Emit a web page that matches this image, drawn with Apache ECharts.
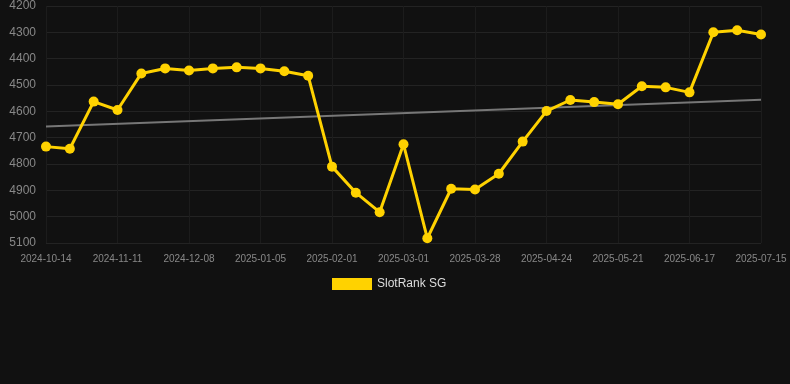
<!DOCTYPE html>
<html>
<head>
<meta charset="utf-8">
<script src="https://cdn.jsdelivr.net/npm/echarts@6/dist/echarts.min.js"></script>
<style>
  html, body { margin: 0; padding: 0; background: #111111; }
  #chart { width: 790px; height: 384px; }
</style>
</head>
<body>
<div id="chart"></div>
<script>
var dates = [
    '2024-10-14', '2024-10-23', '2024-11-01', '2024-11-11', '2024-11-20', '2024-11-29',
    '2024-12-08', '2024-12-17', '2024-12-26', '2025-01-05', '2025-01-14', '2025-01-23',
    '2025-02-01', '2025-02-10', '2025-02-19', '2025-03-01', '2025-03-10', '2025-03-19',
    '2025-03-28', '2025-04-06', '2025-04-15', '2025-04-24', '2025-05-03', '2025-05-12',
    '2025-05-21', '2025-05-30', '2025-06-08', '2025-06-17', '2025-06-26', '2025-07-06',
    '2025-07-15'
];
var slotRank = [
    4734, 4742, 4563, 4595, 4456, 4437, 4445, 4437, 4433, 4437, 4448, 4465,
    4810, 4909, 4983, 4725, 5082, 4894, 4897, 4837, 4715, 4599, 4557, 4565,
    4573, 4505, 4509, 4528, 4300, 4292, 4308
];
var trendStart = 4658;
var trendEnd = 4556;

var trend = [];
for (var i = 0, l = dates.length; i < l; i++) {
    trend[i] = null;
}
trend[0] = trendStart;
trend[dates.length - 1] = trendEnd;

var chart = echarts.init(document.getElementById('chart'));

option = {
    backgroundColor: '#111111',
    animation: false,
    grid: {
        left: 46,
        right: 29,
        top: 6,
        bottom: 141
    },
    legend: {
        data: ['SlotRank SG'],
        top: 273,
        left: 327,
        itemWidth: 40,
        itemHeight: 12,
        icon: 'rect',
        textStyle: {
            color: '#dddddd',
            fontSize: 12,
            fontFamily: 'Liberation Sans'
        }
    },
    xAxis: {
        type: 'category',
        data: dates,
        boundaryGap: false,
        axisLine: { show: false },
        axisTick: { show: false },
        axisLabel: {
            interval: 2,
            color: '#888888',
            fontSize: 10,
            margin: 11,
            fontFamily: 'Liberation Sans'
        },
        splitLine: {
            show: true,
            interval: 2,
            lineStyle: { color: '#1c1c1c' }
        }
    },
    yAxis: {
        type: 'value',
        inverse: true,
        min: 4200,
        max: 5100,
        interval: 100,
        axisLine: { show: false },
        axisTick: { show: false },
        axisLabel: {
            color: '#888888',
            fontSize: 12,
            margin: 10,
            fontFamily: 'Liberation Sans',
            formatter: function (v) { return String(v); }
        },
        splitLine: {
            lineStyle: { color: '#232323' }
        }
    },
    series: [
        {
            name: 'Trend',
            type: 'line',
            data: trend,
            connectNulls: true,
            symbol: 'none',
            silent: true,
            lineStyle: { color: '#777777', width: 2 },
            z: 1
        },
        {
            name: 'SlotRank SG',
            type: 'line',
            data: slotRank,
            symbol: 'circle',
            symbolSize: 10,
            itemStyle: { color: '#ffd200' },
            lineStyle: { color: '#ffd200', width: 3 },
            z: 2
        }
    ]
};
chart.setOption(option);
</script>
</body>
</html>
